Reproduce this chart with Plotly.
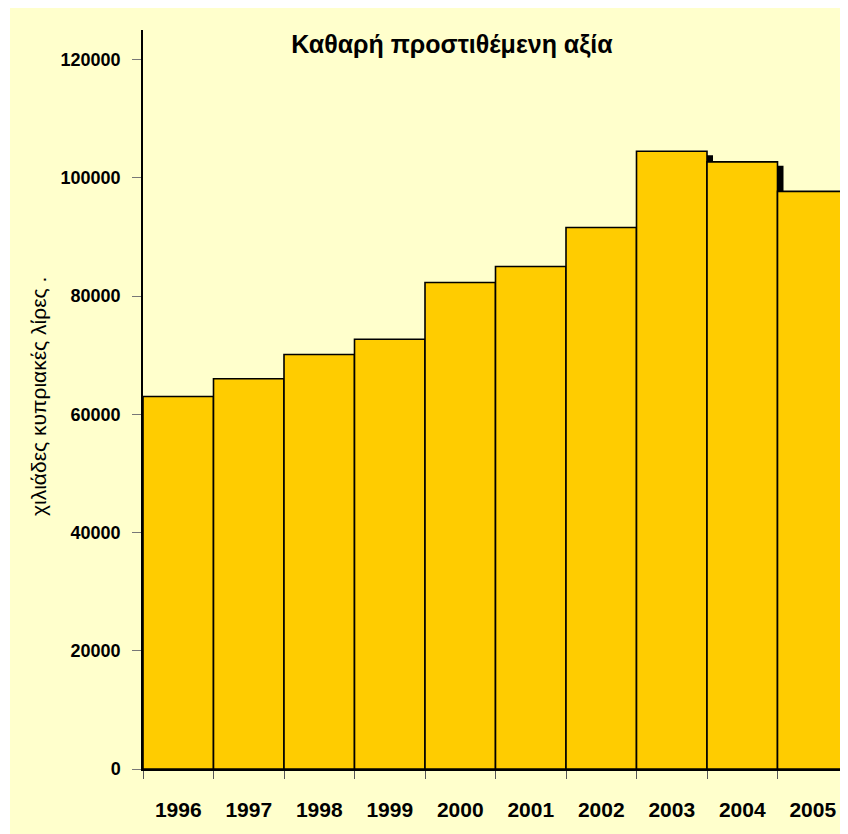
import plotly.graph_objects as go

years = ['1996', '1997', '1998', '1999', '2000', '2001', '2002', '2003', '2004', '2005']
values = [63000, 66000, 70100, 72700, 82300, 85000, 91600, 104500, 102700, 97700]
y_ticks = [0, 20000, 40000, 60000, 80000, 100000, 120000]

title_text = 'Καθαρή προστιθέμενη αξία'
y_title = 'χιλιάδες κυπριακές λίρες .'

bg = '#FFFFCC'
bar_col = '#FFCC00'
font = 'Liberation Sans, Arial, sans-serif'

# the page body adds 8px on the left/top, so the figure is 8px smaller
W, H = 840, 826
L, R, T, B = 135, 0, 22, 65
pw, ph = W - L - R, H - T - B
bottom = H - B
ymax = 125000
xmin, xmax = -0.5, -0.5 + pw / 70.5

# small drop shadow behind the bars (about 6px right, 4px down)
sh_dx = 6 / 70.5
sh_dy = 4 / ph * ymax

fig = go.Figure()
fig.add_trace(go.Bar(
    x=years, y=values, base=[-sh_dy] * len(values),
    offset=-0.5 + sh_dx, width=1,
    marker=dict(color='black', line=dict(width=0)),
    hoverinfo='skip', showlegend=False))
fig.add_trace(go.Bar(
    x=years, y=values,
    offset=-0.5, width=1,
    marker=dict(color=bar_col, line=dict(color='black', width=1.6)),
    showlegend=False))

fig.update_layout(
    width=W, height=H,
    margin=dict(l=L, r=R, t=T, b=B, pad=0),
    paper_bgcolor='white', plot_bgcolor=bg,
    barmode='overlay',
    font=dict(family=font, color='black'),
    title=dict(text='<b>%s</b>' % title_text, xref='paper', yref='paper',
               x=(444 - L) / pw, y=(bottom - 36) / ph, xanchor='center', yanchor='middle',
               font=dict(size=25, family=font, color='black')),
    shapes=[dict(type='rect', xref='paper', yref='paper', layer='below',
                 x0=(2 - L) / pw, x1=1.01, y0=-B / ph - 0.01, y1=bottom / ph + 0.01,
                 fillcolor=bg, line=dict(width=0))],
    annotations=[dict(text=y_title, xref='paper', yref='paper',
                      x=(30 - L) / pw, y=(bottom - 389) / ph, textangle=-90,
                      showarrow=False, xanchor='center', yanchor='middle',
                      font=dict(size=21, family=font, color='black'))],
)

fig.update_xaxes(
    type='category', range=[xmin, xmax],
    showline=True, linecolor='black', linewidth=1.5,
    ticks='outside', tickson='boundaries', ticklen=8, tickcolor='#555555', tickwidth=1,
    tickfont=dict(size=21, family=font, color='black'),
    ticklabelstandoff=21,
    tickvals=years, ticktext=['<b>%s</b>' % y for y in years],
    showgrid=False, zeroline=False,
)
fig.update_yaxes(
    range=[0, ymax],
    showline=True, linecolor='black', linewidth=1.5,
    ticks='outside', ticklen=9, tickcolor='#777777', tickwidth=1,
    tickvals=y_ticks, ticktext=['<b>%d</b>' % v for v in y_ticks],
    tickfont=dict(size=18, family=font, color='black'),
    ticklabelstandoff=8,
    showgrid=False, zeroline=False,
)

fig.write_html('out.html')
